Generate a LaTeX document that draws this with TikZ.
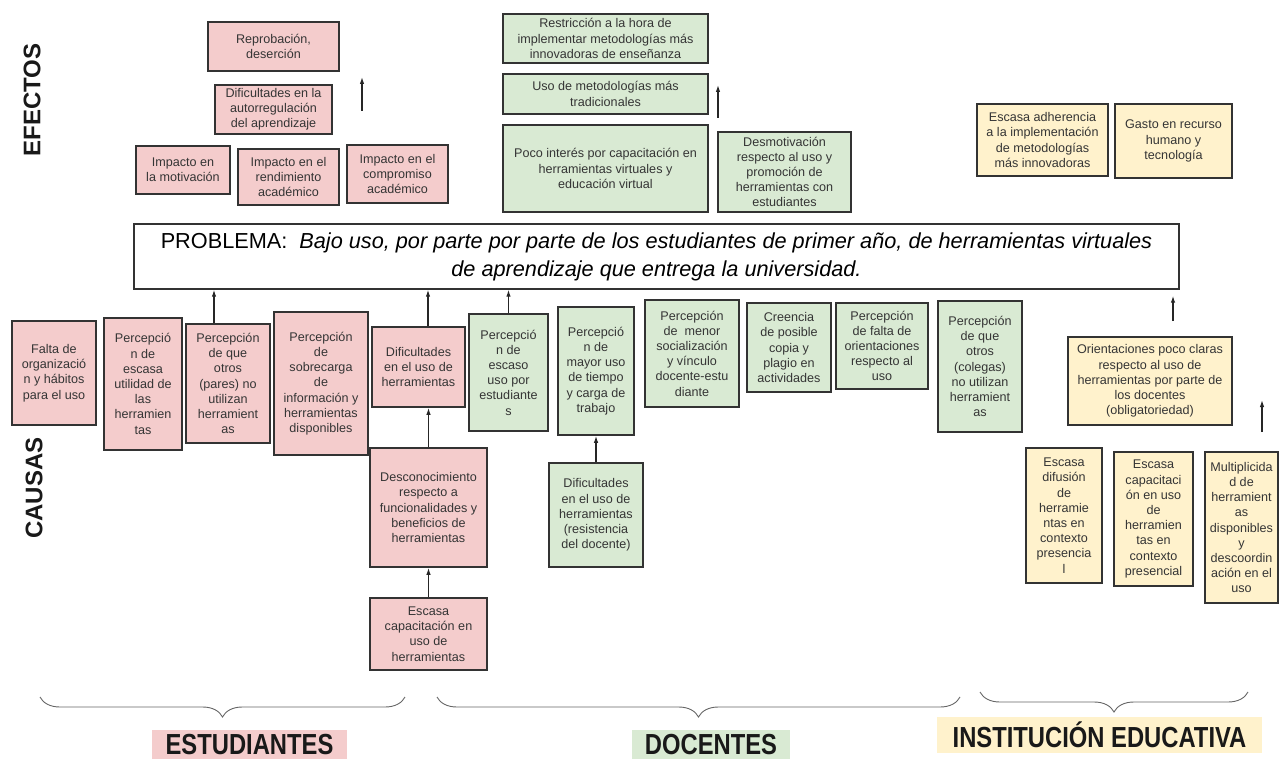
\documentclass[tikz,border=0pt]{standalone}
\usepackage{fontspec}
\setmainfont{Liberation Sans}
\newfontfamily\narrowfont[FakeStretch=0.82]{Liberation Sans}
\usepackage{tikz}
\usetikzlibrary{shapes, arrows.meta, positioning, decorations.pathreplacing}
\definecolor{pinkfill}{HTML}{F4CCCC}
\definecolor{greenfill}{HTML}{D9EAD3}
\definecolor{yellowfill}{HTML}{FFF2CC}
\definecolor{boxline}{HTML}{333333}
\definecolor{boxtext}{HTML}{353535}
\tikzstyle{block}=[draw=boxline,line width=1.6pt,rectangle,align=center,inner sep=1pt,text=boxtext,font=\fontsize{12.6}{15.2}\selectfont]
\tikzstyle{est}=[block,fill=pinkfill]
\tikzstyle{doc}=[block,fill=greenfill]
\tikzstyle{inst}=[block,fill=yellowfill]
\tikzstyle{side}=[rotate=90,text=black!90,font=\bfseries\fontsize{24}{24}\selectfont]
\tikzstyle{group}=[inner sep=0pt,text=black!90,font=\narrowfont\bfseries\fontsize{29}{29}\selectfont]
\tikzstyle{brace}=[draw=black!60,line width=0.9pt,decorate,decoration={brace,mirror,amplitude=20pt}]
\tikzstyle{link}=[->,draw=black!85,line width=1.2pt]
\tikzset{wh/.style 2 args={minimum width=#1,minimum height=#2}}

\begin{document}
\begin{tikzpicture}[x=1pt,y=-1pt,>={Latex[length=7pt,width=4.5pt]}]
  \useasboundingbox (0,0) rectangle (1280,759);

  % side titles
  \node[side] (efectos) at (32,100) {EFECTOS};
  \node[side] (causas) at (34,488) {CAUSAS};

  % problem
  \node[draw=boxline,line width=1.4pt,fill=white,wh={1045}{65},align=center,
        font=\fontsize{21.7}{28}\selectfont] (problema) at (656.5,256.5)
    {PROBLEMA:\ \ \textit{Bajo uso, por parte por parte de los estudiantes de primer año, de herramientas virtuales}\\
     \textit{de aprendizaje que entrega la universidad.}};

  % effects - estudiantes
  \node[est,wh={131}{49}] (reprob) at (273.5,46.5) {Reprobación,\\deserción};
  \node[est,wh={117}{49}] (autorreg) at (273.5,109.5) {Dificultades en la\\autorregulación\\del aprendizaje};
  \node[est,wh={94}{48}] (motiv) at (183,170) {Impacto en\\la motivación};
  \node[est,wh={101}{56}] (rendim) at (288.5,177) {Impacto en el\\rendimiento\\académico};
  \node[est,wh={101}{58}] (comprom) at (397.5,174) {Impacto en el\\compromiso\\académico};
  \coordinate (efa1) at (362,111);
  \coordinate (efa2) at (362,77);
  \draw[link] (efa1) -- (efa2);

  % effects - docentes
  \node[doc,wh={205}{49}] (restric) at (605.5,38.5) {Restricción a la hora de\\implementar metodologías más\\innovadoras de enseñanza};
  \node[doc,wh={205}{40}] (tradic) at (605.5,94) {Uso de metodologías más\\tradicionales};
  \node[doc,wh={205}{87}] (pocoint) at (605.5,168.5) {Poco interés por capacitación en\\herramientas virtuales y\\educación virtual};
  \node[doc,wh={133}{80}] (desmot) at (784.5,172) {Desmotivación\\respecto al uso y\\promoción de\\herramientas con\\estudiantes};
  \coordinate (efb1) at (718,118);
  \coordinate (efb2) at (718,85);
  \draw[link] (efb1) -- (efb2);

  % effects - institucion
  \node[inst,wh={131}{72}] (adher) at (1042.5,140) {Escasa adherencia\\a la implementación\\de metodologías\\más innovadoras};
  \node[inst,wh={117}{74}] (gasto) at (1173.5,141) {Gasto en recurso\\humano y\\tecnología};

  % causes - estudiantes
  \node[est,wh={84}{104}] (falta) at (54,373) {Falta de\\organizació\\n y hábitos\\para el uso};
  \node[est,wh={78}{132}] (utilidad) at (143,384) {Percepció\\n de\\escasa\\utilidad de\\las\\herramien\\tas};
  \node[est,wh={84}{119}] (pares) at (228,383.5) {Percepción\\de que\\otros\\(pares) no\\utilizan\\herramient\\as};
  \node[est,wh={94}{143}] (sobrec) at (321,383.5) {Percepción\\de\\sobrecarga\\de\\información y\\herramientas\\disponibles};
  \node[est,wh={93}{80}] (dificus) at (418.5,367) {Dificultades\\en el uso de\\herramientas};
  \node[est,wh={117}{119}] (descon) at (428.5,507.5) {Desconocimiento\\respecto a\\funcionalidades y\\beneficios de\\herramientas};
  \node[est,wh={117}{72}] (escapac) at (428.5,634) {Escasa\\capacitación en\\uso de\\herramientas};

  % causes - docentes
  \node[doc,wh={79}{117}] (escuso) at (508.5,372.5) {Percepció\\n de\\escaso\\uso por\\estudiante\\s};
  \node[doc,wh={76}{128}] (mayoruso) at (596,371) {Percepció\\n de\\mayor uso\\de tiempo\\y carga de\\trabajo};
  \node[doc,wh={94}{107}] (menorsoc) at (692,353.5) {Percepción\\de\ \ menor\\socialización\\y vínculo\\docente-estu\\diante};
  \node[doc,wh={84}{89}] (creencia) at (789,347.5) {Creencia\\de posible\\copia y\\plagio en\\actividades};
  \node[doc,wh={92}{86}] (faltaor) at (882,346) {Percepción\\de falta de\\orientaciones\\respecto al\\uso};
  \node[doc,wh={84}{131}] (colegas) at (980,366.5) {Percepción\\de que\\otros\\(colegas)\\no utilizan\\herramient\\as};
  \node[doc,wh={94}{104}] (resist) at (596,515) {Dificultades\\en el uso de\\herramientas\\(resistencia\\del docente)};

  % causes - institucion
  \node[inst,wh={164}{88}] (orient) at (1150,381) {Orientaciones poco claras\\respecto al uso de\\herramientas por parte de\\los docentes\\(obligatoriedad)};
  \node[inst,wh={76}{135}] (difus) at (1064,515.5) {Escasa\\difusión\\de\\herramie\\ntas en\\contexto\\presencia\\l};
  \node[inst,wh={79}{134}] (capacit) at (1153.5,519) {Escasa\\capacitaci\\ón en uso\\de\\herramien\\tas en\\contexto\\presencial};
  \node[inst,wh={73}{151}] (multip) at (1241.5,527.5) {Multiplicida\\d de\\herramient\\as\\disponibles\\y\\descoordin\\ación en el\\uso};

  % arrows to the problem
  \draw[link] ([xshift=-14pt]pares.north) -- ([xshift=-14pt]pares.north |- problema.south);
  \draw[link] ([xshift=9.5pt]dificus.north) -- ([xshift=9.5pt]dificus.north |- problema.south);
  \draw[link] (descon.north) -- (descon.north |- dificus.south);
  \draw[link] (escapac) -- (descon);
  \draw[link] (escuso.north) -- (escuso.north |- problema.south);
  \draw[link] (resist) -- (mayoruso);
  \draw[link,shorten <=15pt,shorten >=6pt] ([xshift=23pt]orient.north) -- ([xshift=23pt]orient.north |- problema.south);
  \coordinate (mta) at (1262,432);
  \coordinate (mtb) at (1262,400);
  \draw[link] (mta) -- (mtb);

  % groups
  \coordinate (ba1) at (40,697);
  \coordinate (ba2) at (405,697);
  \coordinate (bb1) at (437,697);
  \coordinate (bb2) at (960,697);
  \coordinate (bc1) at (980,692);
  \coordinate (bc2) at (1248,692);
  \draw[brace] (ba1) -- (ba2);
  \draw[brace] (bb1) -- (bb2);
  \draw[brace] (bc1) -- (bc2);
  \node[group,fill=pinkfill,wh={195}{31}] (estud) at (249.5,745) {ESTUDIANTES};
  \node[group,fill=greenfill,wh={158}{31}] (docen) at (711,745) {DOCENTES};
  \node[group,fill=yellowfill,wh={325}{36}] (instit) at (1099.5,734.5) {INSTITUCIÓN EDUCATIVA};
\end{tikzpicture}
\end{document}
